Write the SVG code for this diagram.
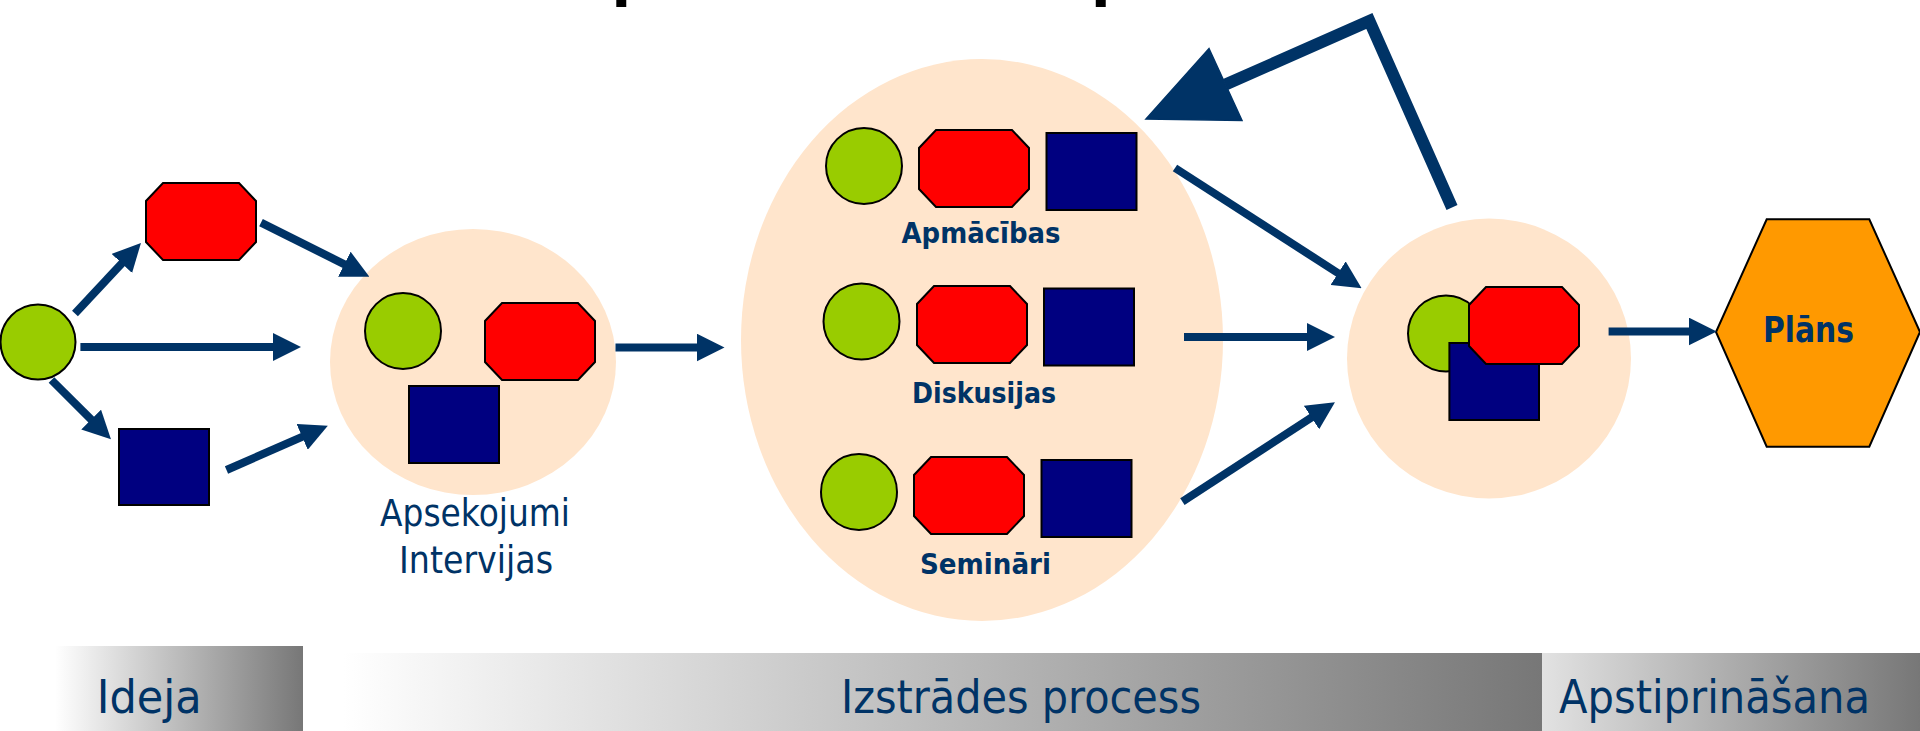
<svg xmlns="http://www.w3.org/2000/svg" width="1920" height="731" viewBox="0 0 1920 731">
<defs>
<style>
.g{fill:#99CC00;stroke:#000;stroke-width:2}
.r{fill:#FF0000;stroke:#000;stroke-width:2}
.b{fill:#000080;stroke:#000;stroke-width:2}
.bg{fill:#FFE5CC}
.c{stroke:#003366;stroke-width:8;fill:none;marker-end:url(#ah)}
.lbl{font-family:"DejaVu Sans","Liberation Sans",sans-serif;fill:#003366}
.bl{font-family:"DejaVu Sans","Liberation Sans",sans-serif;font-weight:bold;fill:#003366}
.ttl{font-family:"DejaVu Sans","Liberation Sans",sans-serif;font-weight:bold;fill:#000;font-size:57px}
</style>
<path id="oct" d="M17,0H93L110,18V59L93,77H17L0,59V18Z"/>
<marker id="ah" viewBox="0 0 28 28" markerWidth="28" markerHeight="28" markerUnits="userSpaceOnUse" refX="8" refY="14" orient="auto"><path d="M0,0L28,14L0,28Z" fill="#003366"/></marker>
<linearGradient id="gA" x1="0" y1="0" x2="1" y2="0"><stop offset="0" stop-color="#ffffff"/><stop offset="1" stop-color="#777777"/></linearGradient>
<linearGradient id="gC" x1="0" y1="0" x2="1" y2="0"><stop offset="0" stop-color="#e2e2e2"/><stop offset="1" stop-color="#777777"/></linearGradient>
</defs>
<rect width="1920" height="731" fill="#fff"/>
<g id="title-fragments">
<text class="ttl" x="611.5" y="-4.6">p</text>
<text class="ttl" x="1091" y="-4.6">p</text>
</g>
<g id="phase-bands">
<g id="band-ideja"><rect x="55" y="646" width="248" height="85" fill="url(#gA)"/><text class="lbl" x="96.7" y="713" font-size="47" textLength="105" lengthAdjust="spacingAndGlyphs">Ideja</text></g>
<g id="band-izstrade"><rect x="343" y="653" width="1199" height="78" fill="url(#gA)"/><text class="lbl" x="841" y="713" font-size="47" textLength="360" lengthAdjust="spacingAndGlyphs">Izstrādes process</text></g>
<g id="band-apstiprinasana"><rect x="1542" y="653" width="378" height="78" fill="url(#gC)"/><text class="lbl" x="1559" y="713" font-size="47" textLength="311" lengthAdjust="spacingAndGlyphs">Apstiprināšana</text></g>
</g>
<g id="nodes">
<g id="idea-circle"><circle class="g" cx="38" cy="342" r="37.5"/></g>
<g id="idea-octagon"><use href="#oct" class="r" x="146" y="183"/></g>
<g id="idea-square"><rect class="b" x="119" y="429" width="90" height="76"/></g>
<g id="apsekojumi">
<ellipse class="bg" cx="473" cy="362" rx="143" ry="133"/>
<circle class="g" cx="403" cy="331" r="38"/>
<use href="#oct" class="r" x="485" y="303"/>
<rect class="b" x="409" y="386" width="90" height="77"/>
<text class="lbl" x="475" y="525.7" font-size="37" text-anchor="middle" textLength="190" lengthAdjust="spacingAndGlyphs">Apsekojumi</text>
<text class="lbl" x="476" y="572.7" font-size="37" text-anchor="middle" textLength="154" lengthAdjust="spacingAndGlyphs">Intervijas</text>
</g>
<g id="process">
<ellipse class="bg" cx="982" cy="340" rx="241" ry="281"/>
<g id="apmacibas">
<circle class="g" cx="864" cy="166" r="38"/>
<use href="#oct" class="r" x="919" y="130"/>
<rect class="b" x="1046.5" y="133" width="90" height="77"/>
<text class="bl" x="981" y="243" font-size="29" text-anchor="middle" textLength="159" lengthAdjust="spacingAndGlyphs">Apmācības</text>
</g>
<g id="diskusijas">
<circle class="g" cx="861.5" cy="321.5" r="38"/>
<use href="#oct" class="r" x="917" y="286"/>
<rect class="b" x="1044" y="288.5" width="90" height="77"/>
<text class="bl" x="984" y="403" font-size="29" text-anchor="middle" textLength="144" lengthAdjust="spacingAndGlyphs">Diskusijas</text>
</g>
<g id="seminari">
<circle class="g" cx="859" cy="492" r="38"/>
<use href="#oct" class="r" x="914" y="457"/>
<rect class="b" x="1041.5" y="460" width="90" height="77"/>
<text class="bl" x="985.5" y="574" font-size="29" text-anchor="middle" textLength="131" lengthAdjust="spacingAndGlyphs">Semināri</text>
</g>
</g>
<g id="merge">
<ellipse class="bg" cx="1489" cy="358.5" rx="142" ry="140"/>
<circle class="g" cx="1446" cy="333.5" r="38"/>
<rect class="b" x="1449.4" y="343" width="89.6" height="77"/>
<use href="#oct" class="r" x="1469" y="287"/>
</g>
<g id="plans">
<polygon points="1716,332 1766.7,219.3 1869.3,219.3 1920,332 1869.3,446.7 1766.7,446.7" fill="#FF9900" stroke="#000" stroke-width="2"/>
<text class="bl" x="1808.5" y="342" font-size="35" text-anchor="middle" textLength="91" lengthAdjust="spacingAndGlyphs">Plāns</text>
</g>
</g>
<g id="connectors">
<line class="c" x1="75" y1="313.5" x2="127.3" y2="257.6"/>
<line class="c" x1="261" y1="222.7" x2="351.5" y2="267.8"/>
<line class="c" x1="80.4" y1="347" x2="281" y2="347"/>
<line class="c" x1="51.5" y1="380" x2="96.8" y2="425.2"/>
<line class="c" x1="226.5" y1="470" x2="309.5" y2="433.7"/>
<line class="c" x1="615.5" y1="347.5" x2="704.5" y2="347.5"/>
<line class="c" x1="1175" y1="168" x2="1344.8" y2="277.5"/>
<line class="c" x1="1184" y1="337" x2="1315" y2="337"/>
<line class="c" x1="1182.4" y1="501.6" x2="1318.2" y2="413.2"/>
<line class="c" x1="1608.6" y1="331.5" x2="1696.7" y2="331.5"/>
<g id="feedback">
<polyline points="1452,207.5 1369.4,21 1225.5,84.5" fill="none" stroke="#003366" stroke-width="12" stroke-linejoin="miter"/>
<polygon points="1146,119 1209,48.5 1242,120.5" fill="#003366" stroke="#003366" stroke-width="1.5" stroke-linejoin="miter"/>
</g>
</g>
</svg>
